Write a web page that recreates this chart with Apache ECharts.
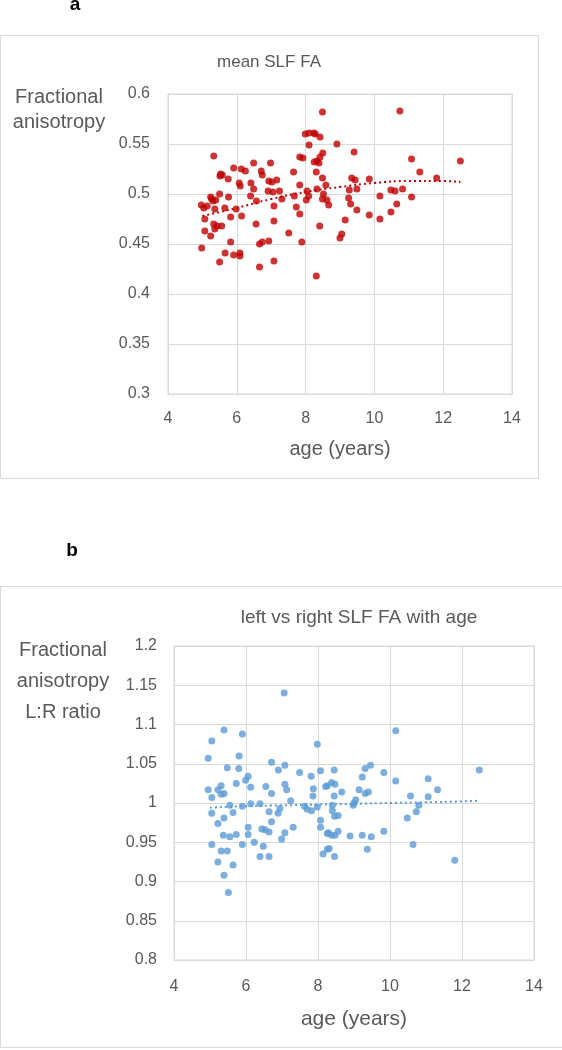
<!DOCTYPE html>
<html><head><meta charset="utf-8">
<script src="https://cdn.jsdelivr.net/npm/echarts@6/dist/echarts.min.js"></script>
<style>html,body{margin:0;padding:0;background:#fff}#c{width:562px;height:1050px}</style>
</head><body><div id="c"></div><script>
// Panel a: mean SLF FA vs age
const ageA = [8.49,7.99,8.10,8.24,8.28,8.42,8.10,5.33,7.83,7.92,8.50,8.42,8.33,8.25,8.39,6.49,6.98,5.91,6.13,6.25,5.53,5.58,5.51,5.75,6.71,6.74,7.65,8.31,6.07,6.10,6.41,6.49,6.93,7.02,7.16,6.91,7.05,7.24,7.83,8.49,8.59,5.24,5.27,5.31,5.39,5.50,5.76,6.40,6.57,7.31,7.67,8.04,8.09,8.02,8.33,8.52,8.49,8.62,4.97,5.04,5.14,5.36,5.65,5.98,7.08,7.73,8.67,5.07,5.82,6.14,7.83,5.33,5.43,5.56,5.36,5.07,5.24,6.56,7.08,8.41,7.51,5.82,7.89,6.66,6.74,6.93,4.98,5.66,5.91,6.09,6.09,5.50,7.08,6.66,8.31,
10.74,8.91,9.41,11.08,12.50,11.32,9.34,9.44,9.85,11.81,9.27,9.49,10.48,10.60,10.82,9.25,9.31,10.16,11.08,10.65,9.49,10.48,9.85,10.16,9.15,9.05,9.00];
const faA = [0.582,0.560,0.561,0.561,0.560,0.557,0.549,0.538,0.537,0.536,0.541,0.537,0.533,0.532,0.531,0.531,0.531,0.526,0.525,0.523,0.520,0.519,0.518,0.515,0.523,0.519,0.522,0.522,0.511,0.508,0.511,0.505,0.513,0.512,0.514,0.503,0.502,0.503,0.509,0.516,0.509,0.497,0.495,0.493,0.494,0.500,0.497,0.498,0.493,0.495,0.498,0.503,0.498,0.494,0.505,0.500,0.495,0.494,0.489,0.486,0.488,0.485,0.486,0.485,0.488,0.487,0.489,0.475,0.477,0.478,0.480,0.470,0.468,0.468,0.465,0.463,0.458,0.470,0.473,0.468,0.461,0.452,0.452,0.450,0.452,0.453,0.446,0.441,0.439,0.441,0.438,0.432,0.433,0.427,0.418,
0.583,0.550,0.542,0.535,0.533,0.522,0.516,0.514,0.515,0.516,0.504,0.505,0.504,0.503,0.505,0.496,0.490,0.498,0.497,0.490,0.484,0.482,0.479,0.475,0.474,0.460,0.456];
const trendAgeA = [5.0,5.5,6.0,7.0,8.0,9.0,10.0,11.0,12.0,12.5];
const trendFaA = [0.478,0.482,0.486,0.495,0.502,0.507,0.511,0.513,0.513,0.512];

// Panel b: left vs right SLF FA ratio vs age
const ageB = [7.06,5.39,5.90,5.05,4.95,5.81,7.98,5.48,5.80,6.71,6.90,7.08,6.06,5.99,5.73,7.49,7.81,8.07,4.95,5.05,5.22,5.31,5.39,5.31,6.13,6.55,6.71,7.08,7.13,7.24,7.87,7.86,8.21,8.26,5.55,5.64,5.90,6.13,6.39,5.05,6.64,6.94,6.89,7.63,7.70,7.82,7.98,6.71,5.22,5.39,6.06,6.06,5.37,5.55,5.73,6.44,6.53,6.64,7.31,7.08,6.99,8.07,8.07,8.26,5.05,5.90,6.23,6.48,5.31,5.48,6.39,6.64,8.14,8.26,5.22,5.64,5.39,5.51,
10.16,9.46,9.31,8.45,9.83,12.48,9.23,11.06,10.16,8.38,8.47,11.32,9.14,9.31,9.40,8.66,8.45,10.57,11.06,9.05,9.00,8.98,8.40,8.40,8.46,8.56,10.80,10.73,10.48,8.29,8.38,8.47,8.56,8.89,9.23,9.48,9.83,8.31,8.46,9.37,10.64,11.80];
const ratioB = [1.140,1.093,1.088,1.079,1.057,1.060,1.075,1.045,1.044,1.052,1.042,1.048,1.034,1.029,1.025,1.039,1.034,1.041,1.017,1.007,1.017,1.022,1.012,1.011,1.020,1.021,1.012,1.024,1.017,1.003,1.018,1.009,1.021,1.022,0.997,0.988,0.996,0.999,0.999,0.987,0.989,0.993,0.987,0.996,0.992,0.990,0.995,0.976,0.974,0.981,0.969,0.960,0.959,0.957,0.960,0.967,0.966,0.963,0.969,0.962,0.954,0.978,0.969,0.961,0.947,0.947,0.950,0.945,0.939,0.939,0.932,0.932,0.935,0.941,0.925,0.921,0.908,0.886,
1.092,1.048,1.044,1.042,1.039,1.042,1.033,1.031,1.028,1.026,1.024,1.017,1.017,1.012,1.014,1.014,1.009,1.009,1.008,1.004,1.000,0.997,0.997,0.990,0.983,0.984,0.997,0.989,0.981,0.962,0.959,0.959,0.964,0.958,0.959,0.957,0.964,0.942,0.932,0.941,0.947,0.927];
const trendAgeB = [5.0,6.0,7.0,8.0,9.0,10.0,11.0,12.0,12.5];
const trendRatioB = [0.994,0.996,0.997,0.998,0.999,1.000,1.001,1.002,1.003];

const xTicks = {min: 4, max: 14, interval: 2};
const FONT = "'Liberation Sans', Arial, sans-serif";
const TXT = '#595959';
const GRID_C = '#d9d9d9';

const zip = (a, b) => a.map((v, i) => [v, b[i]]);
const fmt = v => String(Math.round(v * 100) / 100);

function xAxisCfg(gridIndex, nameGap, nameSize, labelMargin) {
  return {
    type: 'value', gridIndex, min: xTicks.min, max: xTicks.max, interval: xTicks.interval,
    name: 'age (years)', nameLocation: 'middle', nameGap,
    nameTextStyle: {color: TXT, fontSize: nameSize, fontFamily: FONT},
    axisLine: {show: true, lineStyle: {color: GRID_C, width: 1}},
    axisTick: {show: false},
    axisLabel: {color: TXT, fontSize: 16, fontFamily: FONT, margin: labelMargin},
    splitLine: {show: true, lineStyle: {color: GRID_C, width: 1}}
  };
}
function yAxisCfg(gridIndex, min, max, margin) {
  return {
    type: 'value', gridIndex, min, max, interval: 0.05,
    axisLine: {show: true, lineStyle: {color: GRID_C, width: 1}},
    axisTick: {show: false},
    axisLabel: {color: TXT, fontSize: 16, fontFamily: FONT, margin, formatter: fmt},
    splitLine: {show: true, lineStyle: {color: GRID_C, width: 1}}
  };
}

const chart = echarts.init(document.getElementById('c'), null, {renderer: 'canvas'});
chart.setOption({
  backgroundColor: '#ffffff',
  animation: false,
  grid: [
    {left: 168, top: 94, width: 344, height: 300, show: true, borderColor: GRID_C, borderWidth: 1},
    {left: 174, top: 646, width: 360, height: 314, show: true, borderColor: GRID_C, borderWidth: 1}
  ],
  xAxis: [xAxisCfg(0, 45, 20, 17), xAxisCfg(1, 49, 21, 19)],
  yAxis: [yAxisCfg(0, 0.3, 0.6, 18), yAxisCfg(1, 0.8, 1.2, 17)],
  series: [
    {type: 'scatter', xAxisIndex: 0, yAxisIndex: 0, data: zip(ageA, faA), symbolSize: 7,
     itemStyle: {color: '#C00000'}, z: 2},
    {type: 'line', xAxisIndex: 0, yAxisIndex: 0, data: zip(trendAgeA, trendFaA), smooth: true,
     showSymbol: false, lineStyle: {color: '#C00000', width: 2, type: [2, 3]}, z: 3},
    {type: 'scatter', xAxisIndex: 1, yAxisIndex: 1, data: zip(ageB, ratioB), symbolSize: 7,
     itemStyle: {color: '#5B9BD5'}, z: 2},
    {type: 'line', xAxisIndex: 1, yAxisIndex: 1, data: zip(trendAgeB, trendRatioB), smooth: true,
     showSymbol: false, lineStyle: {color: '#5B9BD5', width: 2, type: [2, 3]}, z: 3}
  ],
  graphic: [
    {type: 'rect', shape: {x: 0.5, y: 35.5, width: 538, height: 443}, style: {fill: 'none', stroke: GRID_C, lineWidth: 1}, z: -1},
    {type: 'rect', shape: {x: 0.5, y: 586.5, width: 562, height: 461}, style: {fill: 'none', stroke: GRID_C, lineWidth: 1}, z: -1},
    {type: 'text', x: 75, y: 5, style: {text: 'a', font: "bold 19px " + FONT, fill: '#000', textAlign: 'center', textVerticalAlign: 'middle'}},
    {type: 'text', x: 72, y: 551, style: {text: 'b', font: "bold 19px " + FONT, fill: '#000', textAlign: 'center', textVerticalAlign: 'middle'}},
    {type: 'text', x: 269, y: 62, style: {text: 'mean SLF FA', font: "17px " + FONT, fill: TXT, textAlign: 'center', textVerticalAlign: 'middle'}},
    {type: 'text', x: 359, y: 618, style: {text: 'left vs right SLF FA with age', font: "19px " + FONT, fill: TXT, textAlign: 'center', textVerticalAlign: 'middle'}},
    {type: 'text', x: 59, y: 110, style: {text: 'Fractional\nanisotropy', font: "20px " + FONT, lineHeight: 25, fill: TXT, textAlign: 'center', textVerticalAlign: 'middle'}},
    {type: 'text', x: 63, y: 681, style: {text: 'Fractional\nanisotropy\nL:R ratio', font: "20px " + FONT, lineHeight: 31, fill: TXT, textAlign: 'center', textVerticalAlign: 'middle'}}
  ]
});
</script></body></html>
